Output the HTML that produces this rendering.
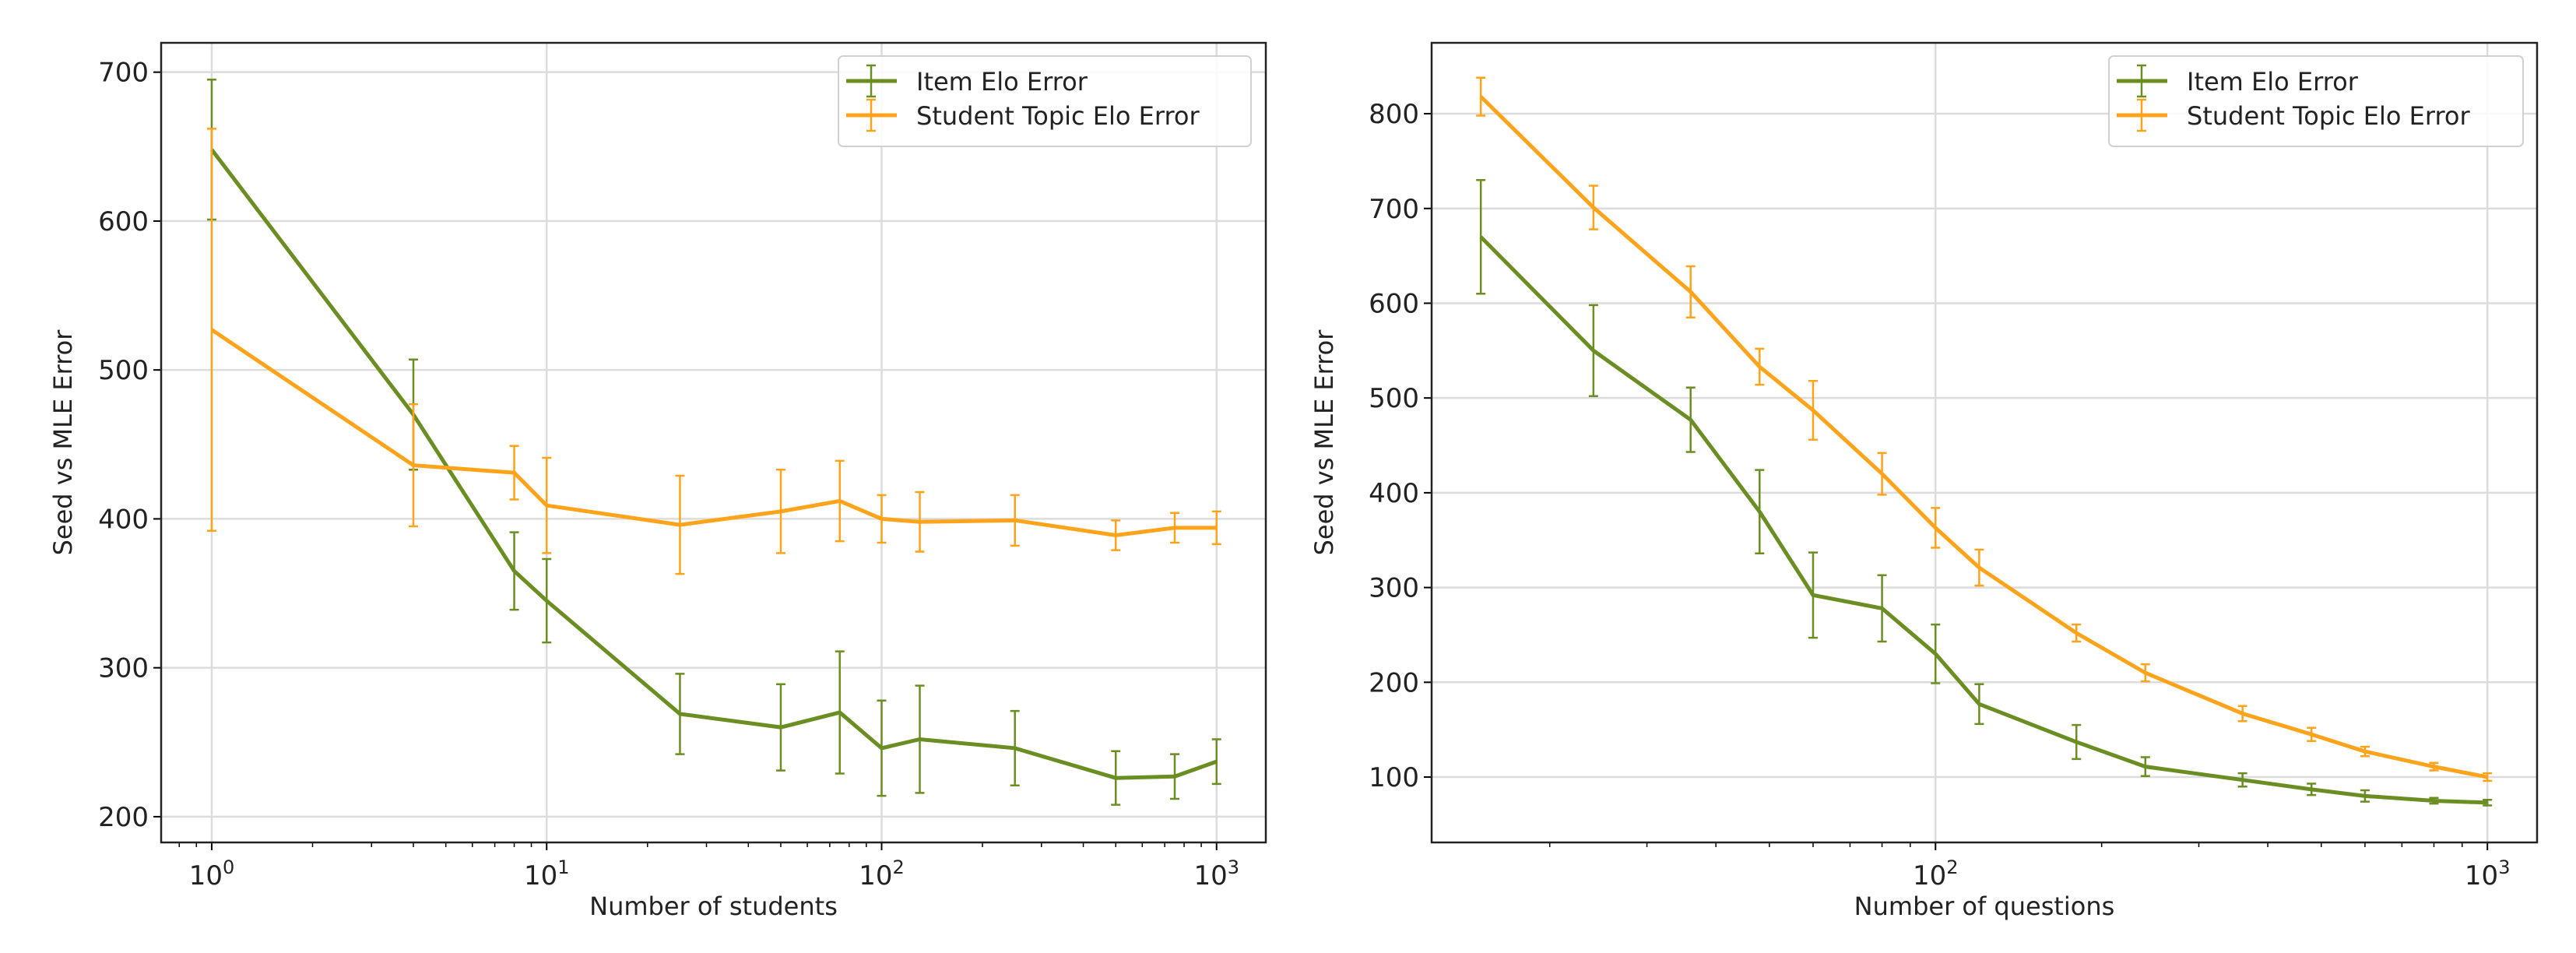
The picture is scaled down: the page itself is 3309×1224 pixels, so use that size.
<!DOCTYPE html>
<html><head><meta charset="utf-8"><style>
html,body{margin:0;padding:0;background:#fff;}
svg{display:block;font-family:"DejaVu Sans","Liberation Sans",sans-serif;}
</style></head><body>
<svg id="fig" width="3309" height="1224" viewBox="0 0 3309 1224"></svg>
<script>
// Left panel data (Number of students)
const studentsX = [1,4,8,10,25,50,75,100,130,250,500,750,1000];
const itemErrL = [648,470,365,345,269,260,270,246,252,246,226,227,237];
const itemErrLsd = [47,37,26,28,27,29,41,32,36,25,18,15,15];
const stuErrL = [527,436,431,409,396,405,412,400,398,399,389,394,394];
const stuErrLsd = [135,41,18,32,33,28,27,16,20,17,10,10,11];
const yTicksL = [200,300,400,500,600,700];
// Right panel data (Number of questions)
const questionsX = [15,24,36,48,60,80,100,120,180,240,360,480,600,800,1000];
const itemErrR = [670,550,477,380,292,278,230,177,137,111,97,87,80,75,73];
const itemErrRsd = [60,48,34,44,45,35,31,21,18,10,7,6,6,3,3];
const stuErrR = [818,701,612,533,487,420,363,321,252,210,167,145,127,111,100];
const stuErrRsd = [20,23,27,19,31,22,21,19,9,9,8,7,5,4,4];
const yTicksR = [100,200,300,400,500,600,700,800];
const legendLabels = ["Item Elo Error","Student Topic Elo Error"];

const NS="http://www.w3.org/2000/svg";
const svg=document.getElementById('fig');
const GREEN="#6b8e23", ORANGE="#ffa31a";
function mk(tag,attrs,parent){const e=document.createElementNS(NS,tag);for(const k in attrs)e.setAttribute(k,attrs[k]);(parent||svg).appendChild(e);return e;}

function panel(cfg){
  const g=mk('g',{});
  
  
  const {x0,x1,y0,y1,lmin,lmax,vmin,vmax}=cfg;
  const sx=v=>x0+(Math.log10(v)-lmin)/(lmax-lmin)*(x1-x0);
  const sy=v=>y1-(v-vmin)/(vmax-vmin)*(y1-y0);
  for(const t of cfg.yTicks){const y=sy(t);
    const l=mk('line',{x1:x0,x2:x1,y1:y,y2:y,stroke:"#dcdcdc","stroke-width":2.5},g);
    
    mk('line',{x1:x0-10,x2:x0,y1:y,y2:y,stroke:"#000","stroke-width":2},g);
    const tx=mk('text',{x:x0-16,y:y+12,"text-anchor":"end","font-size":34,fill:"#222"},g);tx.textContent=t;
    
  }
  for(let d=Math.ceil(lmin);d<=Math.floor(lmax);d++){const x=sx(Math.pow(10,d));
    const l=mk('line',{x1:x,x2:x,y1:y0,y2:y1,stroke:"#dcdcdc","stroke-width":2.5},g);
    
    mk('line',{x1:x,x2:x,y1:y1,y2:y1+10,stroke:"#000","stroke-width":2},g);
    const tx=mk('text',{x:x,y:y1+54,"text-anchor":"middle","font-size":34,fill:"#222"},g);
    tx.innerHTML='10<tspan dy="-14" font-size="24">'+d+'</tspan>';
    
  }
  for(let d=Math.floor(lmin);d<=Math.ceil(lmax);d++)for(let m=2;m<10;m++){const lv=d+Math.log10(m);
    if(lv<lmin||lv>lmax)continue;const x=sx(Math.pow(10,lv));
    mk('line',{x1:x,x2:x,y1:y1,y2:y1+6,stroke:"#000","stroke-width":1.5},g);}
  function series(xs,ys,sd,col,name){
    const sg=mk('g',{},g);
    xs.forEach((xv,i)=>{const x=sx(xv),a=sy(ys[i]-sd[i]),b=sy(ys[i]+sd[i]);
      const e=mk('path',{d:`M${x},${a}V${b}M${x-6},${a}H${x+6}M${x-6},${b}H${x+6}`,stroke:col,"stroke-width":2.5,fill:"none"},sg);
      });
    const p=mk('polyline',{points:xs.map((xv,i)=>sx(xv)+','+sy(ys[i])).join(' '),stroke:col,"stroke-width":5,fill:"none"},sg);
    
  }
  series(cfg.xs,cfg.item,cfg.itemSd,GREEN,'item-elo-error-series');
  series(cfg.xs,cfg.stu,cfg.stuSd,ORANGE,'student-topic-elo-error-series');
  const fr=mk('rect',{x:x0,y:y0,width:x1-x0,height:y1-y0,fill:"none",stroke:"#222","stroke-width":2.5},g);
  
  const lg=mk('g',{},g);
  mk('rect',{x:cfg.lx,y:72,width:cfg.lw,height:116,rx:6,fill:"#fff","fill-opacity":0.85,stroke:"#d0d0d0","stroke-width":2},lg);
  [[GREEN,legendLabels[0],118],[ORANGE,legendLabels[1],162]].forEach(([c,t,y])=>{
    const e=mk('g',{},lg);
    mk('line',{x1:cfg.lx+10,x2:cfg.lx+75,y1:y-14,y2:y-14,stroke:c,"stroke-width":5},e);
    mk('path',{d:`M${cfg.lx+42},${y-34}V${y+6}M${cfg.lx+36},${y-34}H${cfg.lx+48}M${cfg.lx+36},${y+6}H${cfg.lx+48}`,stroke:c,"stroke-width":2.5},e);
    const tx=mk('text',{x:cfg.lx+100,y:y-2,"font-size":32,fill:"#222"},e);tx.textContent=t;});
  const xl=mk('text',{x:(x0+x1)/2,y:1175,"text-anchor":"middle","font-size":32,fill:"#222"},g);xl.textContent=cfg.xlabel;
  
  const yx=cfg.ylx,ym=(y0+y1)/2;
  const yl=mk('text',{x:yx,y:ym,"text-anchor":"middle","font-size":32,fill:"#222",transform:`rotate(-90 ${yx} ${ym})`},g);yl.textContent="Seed vs MLE Error";
  
}
panel({name:'students-panel',x0:207,x1:1626,y0:55,y1:1082,lmin:-0.151,lmax:3.147,vmin:182.7,vmax:719.7,
  yTicks:yTicksL,xs:studentsX,item:itemErrL,itemSd:itemErrLsd,stu:stuErrL,stuSd:stuErrLsd,lx:1077,lw:530,xlabel:"Number of students",ylx:92});
panel({name:'questions-panel',x0:1839,x1:3259,y0:55,y1:1082,lmin:1.087,lmax:3.09,vmin:31,vmax:874.8,
  yTicks:yTicksR,xs:questionsX,item:itemErrR,itemSd:itemErrRsd,stu:stuErrR,stuSd:stuErrRsd,lx:2709,lw:532,xlabel:"Number of questions",ylx:1712});
</script>
</body></html>
